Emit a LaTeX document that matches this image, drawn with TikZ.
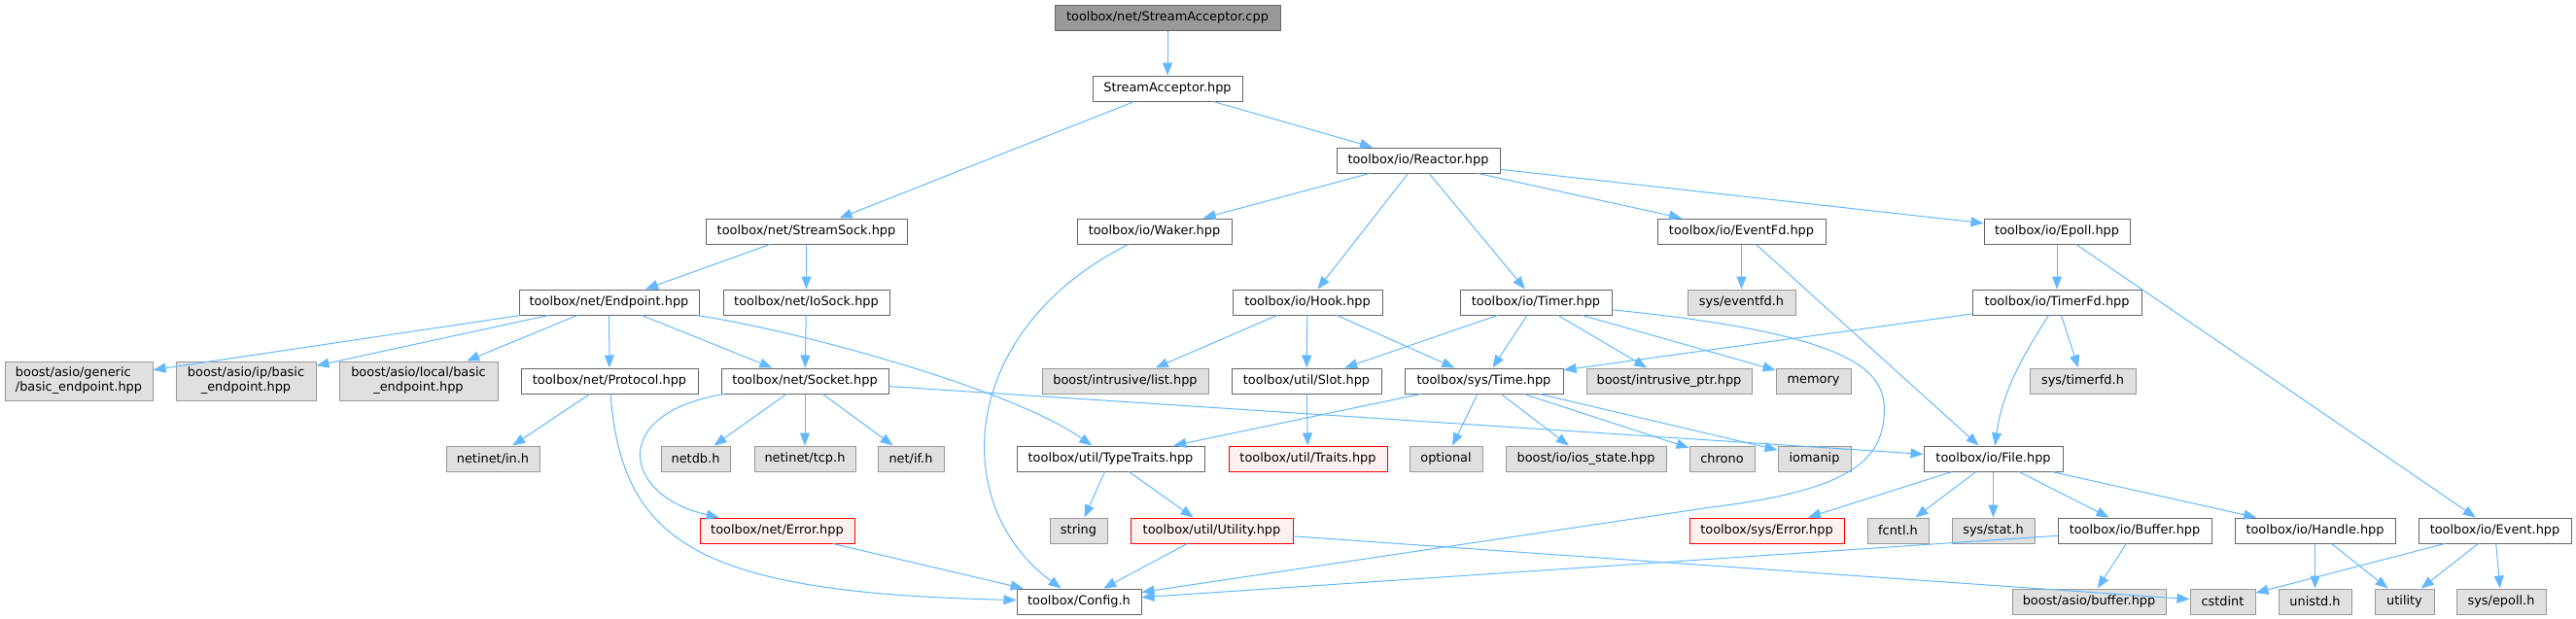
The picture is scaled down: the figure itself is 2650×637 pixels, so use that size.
\documentclass[tikz,border=0pt]{standalone}
\usepackage{fontspec}
\setmainfont{DejaVu Sans}
\usepackage{xcolor}
\usepackage{tikz}
\usetikzlibrary{arrows.meta}
\definecolor{doxBlue}{RGB}{99,184,255}
\definecolor{doxGray}{RGB}{102,102,102}
\definecolor{doxMid}{RGB}{153,153,153}
\definecolor{doxLight}{RGB}{224,224,224}
\definecolor{doxRed}{RGB}{255,0,0}
\definecolor{doxPink}{RGB}{255,240,240}

\begin{document}
\begin{tikzpicture}[
    x=1pt, y=-1pt,
    every node/.style={font=\fontsize{12.9}{15}\selectfont, inner sep=0pt, minimum height=26pt},
    inc/.style={rectangle, draw=doxGray, fill=white, line width=1pt},
    ext/.style={rectangle, draw=doxMid, fill=doxLight, line width=1pt},
    trunc/.style={rectangle, draw=doxRed, fill=doxPink, line width=1pt},
    rootfile/.style={rectangle, draw=doxGray, fill=doxMid, line width=1pt},
    edge/.style={draw=doxBlue, line width=1pt, -{Triangle[length=13pt,width=10pt]}}
]
\useasboundingbox (0,0) rectangle (2650,637);

\node[rootfile, minimum width=232pt] (root) at (1201,18) {toolbox/net/StreamAcceptor.cpp};
\node[inc, minimum width=154pt] (sah) at (1201,91) {StreamAcceptor.hpp};
\node[inc, minimum width=168pt] (reactor) at (1459,165) {toolbox/io/Reactor.hpp};

\foreach \s/\n/\x/\w/\t in {inc/ssock/829.5/207/{toolbox/net/StreamSock.hpp},
    inc/waker/1187.5/159/{toolbox/io/Waker.hpp}, inc/evfd/1791.5/173/{toolbox/io/EventFd.hpp},
    inc/epoll/2116/150/{toolbox/io/Epoll.hpp}} {
  \node[\s, minimum width=\w pt] (\n) at (\x,238) {\t};
}

\foreach \s/\n/\x/\w/\t in {inc/endp/626.5/185/{toolbox/net/Endpoint.hpp},
    inc/iosock/829.5/171/{toolbox/net/IoSock.hpp}, inc/hook/1345/154/{toolbox/io/Hook.hpp},
    inc/timer/1580/156/{toolbox/io/Timer.hpp}, ext/evfdh/1791.5/111/{sys/eventfd.h},
    inc/tfd/2116/174/{toolbox/io/TimerFd.hpp}} {
  \node[\s, minimum width=\w pt] (\n) at (\x,311) {\t};
}

\foreach \al/\n/\x/\w/\t in {left/generic/81/152/{boost/asio/generic\\/basic\_endpoint.hpp},
    center/ipbasic/253/144/{boost/asio/ip/basic\\\_endpoint.hpp},
    center/locbasic/430.5/163/{boost/asio/local/basic\\\_endpoint.hpp}} {
  \node[ext, minimum width=\w pt, minimum height=40pt, align=\al] (\n) at (\x,392) {\t};
}

\foreach \s/\n/\x/\w/\t in {inc/proto/627/182/{toolbox/net/Protocol.hpp},
    inc/sock/828/172/{toolbox/net/Socket.hpp}, ext/ilist/1157.5/171/{boost/intrusive/list.hpp},
    inc/slot/1344/154/{toolbox/util/Slot.hpp}, inc/stime/1526.5/163/{toolbox/sys/Time.hpp},
    ext/iptr/1717/170/{boost/intrusive\_ptr.hpp}, ext/memory/1865.5/77/{memory},
    ext/tfdh/2142.5/109/{sys/timerfd.h}} {
  \node[\s, minimum width=\w pt] (\n) at (\x,392) {\t};
}

\foreach \s/\n/\x/\w/\t in {ext/inh/507/96/{netinet/in.h}, ext/netdb/715.5/71/{netdb.h},
    ext/tcp/828/104/{netinet/tcp.h}, ext/netif/937/68/{net/if.h},
    inc/ttraits/1142.5/193/{toolbox/util/TypeTraits.hpp}, trunc/traits/1345.5/163/{toolbox/util/Traits.hpp},
    ext/optional/1487.5/75/{optional}, ext/iosst/1631.5/165/{boost/io/ios\_state.hpp},
    ext/chrono/1771.5/67/{chrono}, ext/iomanip/1866.5/75/{iomanip},
    inc/iofile/2050.5/143/{toolbox/io/File.hpp}} {
  \node[\s, minimum width=\w pt] (\n) at (\x,472) {\t};
}

\foreach \s/\n/\x/\w/\t in {trunc/neterr/799.5/159/{toolbox/net/Error.hpp}, ext/string/1109.5/59/{string},
    trunc/utilh/1246.5/167/{toolbox/util/Utility.hpp}, trunc/syserr/1817.5/159/{toolbox/sys/Error.hpp},
    ext/fcntl/1952.5/63/{fcntl.h}, ext/sysstat/2050.5/85/{sys/stat.h},
    inc/buffer/2196/158/{toolbox/io/Buffer.hpp}, inc/handle/2381.5/165/{toolbox/io/Handle.hpp},
    inc/event/2566.5/157/{toolbox/io/Event.hpp}} {
  \node[\s, minimum width=\w pt] (\n) at (\x,546) {\t};
}

\foreach \s/\n/\x/\w/\t in {inc/config/1110/128/{toolbox/Config.h}, ext/asiobuf/2149/158/{boost/asio/buffer.hpp},
    ext/cstdint/2286.5/67/{cstdint}, ext/unistd/2381.5/75/{unistd.h},
    ext/utility/2473.5/61/{utility}, ext/epollh/2573/92/{sys/epoll.h}} {
  \node[\s, minimum width=\w pt] (\n) at (\x,619) {\t};
}

\foreach \a/\b in {root/sah, sah/ssock, sah/reactor, reactor/waker, reactor/hook, reactor/timer,
    reactor/evfd, reactor/epoll, ssock/endp, ssock/iosock, endp/generic, endp/ipbasic,
    endp/locbasic, endp/proto, endp/sock, iosock/sock, proto/inh, sock/netdb, sock/tcp,
    sock/netif, sock/iofile, hook/ilist, hook/slot, hook/stime, timer/slot, timer/stime,
    timer/iptr, timer/memory, evfd/evfdh, evfd/iofile, epoll/tfd, epoll/event, tfd/stime,
    tfd/tfdh, slot/traits, stime/ttraits, stime/optional, stime/iosst, stime/chrono,
    stime/iomanip, ttraits/string, ttraits/utilh, utilh/config, utilh/cstdint, neterr/config,
    iofile/syserr, iofile/fcntl, iofile/sysstat, iofile/buffer, iofile/handle, buffer/config,
    buffer/asiobuf, handle/unistd, handle/utility, event/cstdint, event/utility, event/epollh}
  \draw[edge] (\a)--(\b);

\draw[edge] (waker) .. controls (985,340) and (975,520) .. (config);
\draw[edge] (proto) .. controls (640,560) and (720,610) .. (config);
\draw[edge] (sock) .. controls (625,425) and (640,510) .. (neterr);
\draw[edge] (endp) .. controls (820,340) and (1040,400) .. (ttraits);
\draw[edge] (tfd) .. controls (2085,360) and (2060,400) .. (iofile);
\draw[edge] (timer) .. controls (1920,345) and (1942,385) .. (1938,430)
  .. controls (1934,475) and (1900,505) .. (1760,522) -- (config);
\end{tikzpicture}
\end{document}
